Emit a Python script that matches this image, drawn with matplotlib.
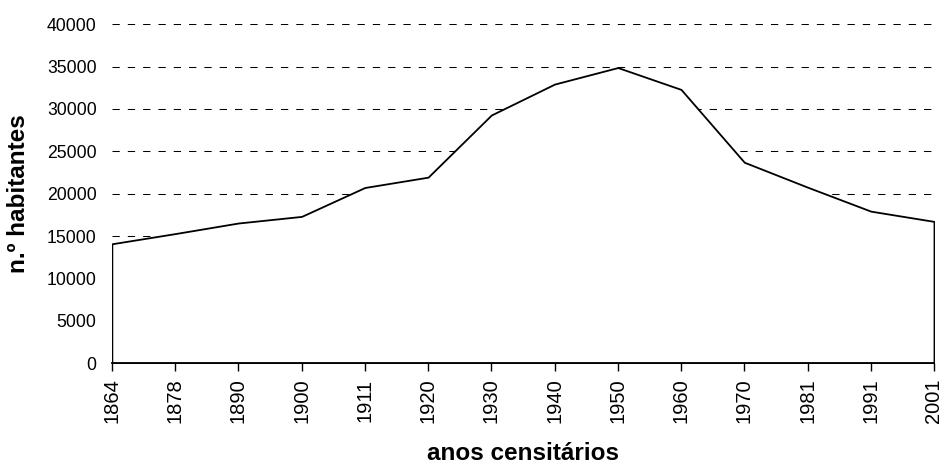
import numpy as np
import matplotlib.pyplot as plt

plt.rcParams['font.family'] = ['Liberation Sans', 'DejaVu Sans']

# census years and population
anos = ['1864', '1878', '1890', '1900', '1911', '1920', '1930',
        '1940', '1950', '1960', '1970', '1981', '1991', '2001']
habitantes = [14100, 15300, 16550, 17330, 20740, 21960, 29290,
              32940, 34890, 32310, 23720, 20780, 17950, 16740]
y_ticks = [0, 5000, 10000, 15000, 20000, 25000, 30000, 35000, 40000]

fig = plt.figure(figsize=(9.4, 4.66), dpi=100)
ax = fig.add_axes([0.119, 0.2204, 0.8746, 0.7276])

x = np.arange(len(anos))
# white area with black outline hides the gridlines below the curve
ax.fill_between(x, habitantes, 0, facecolor='white', edgecolor='black',
                linewidth=1.3, zorder=3)

ax.set_xlim(0, len(anos) - 1)
ax.set_ylim(0, 40000)
ax.set_yticks(y_ticks)
ax.set_xticks(x)
ax.set_xticklabels(anos, rotation=90, fontsize=14.5)
ax.tick_params(axis='y', length=0, labelsize=12.7, pad=11)
ax.tick_params(axis='x', length=6, width=1, pad=5)

ax.yaxis.grid(True, color='black', linestyle=(0, (7, 7.7)), linewidth=0.75)
ax.set_axisbelow(True)

for side in ['top', 'right', 'left']:
    ax.spines[side].set_visible(False)
ax.spines['bottom'].set_linewidth(1.3)
ax.spines['bottom'].set_zorder(4)

ax.set_xlabel('anos censitários', fontsize=17.5, fontweight='bold', labelpad=13)
ax.set_ylabel('n.º habitantes', fontsize=17.5, fontweight='bold', labelpad=12)

plt.savefig('out.png', dpi=100)
